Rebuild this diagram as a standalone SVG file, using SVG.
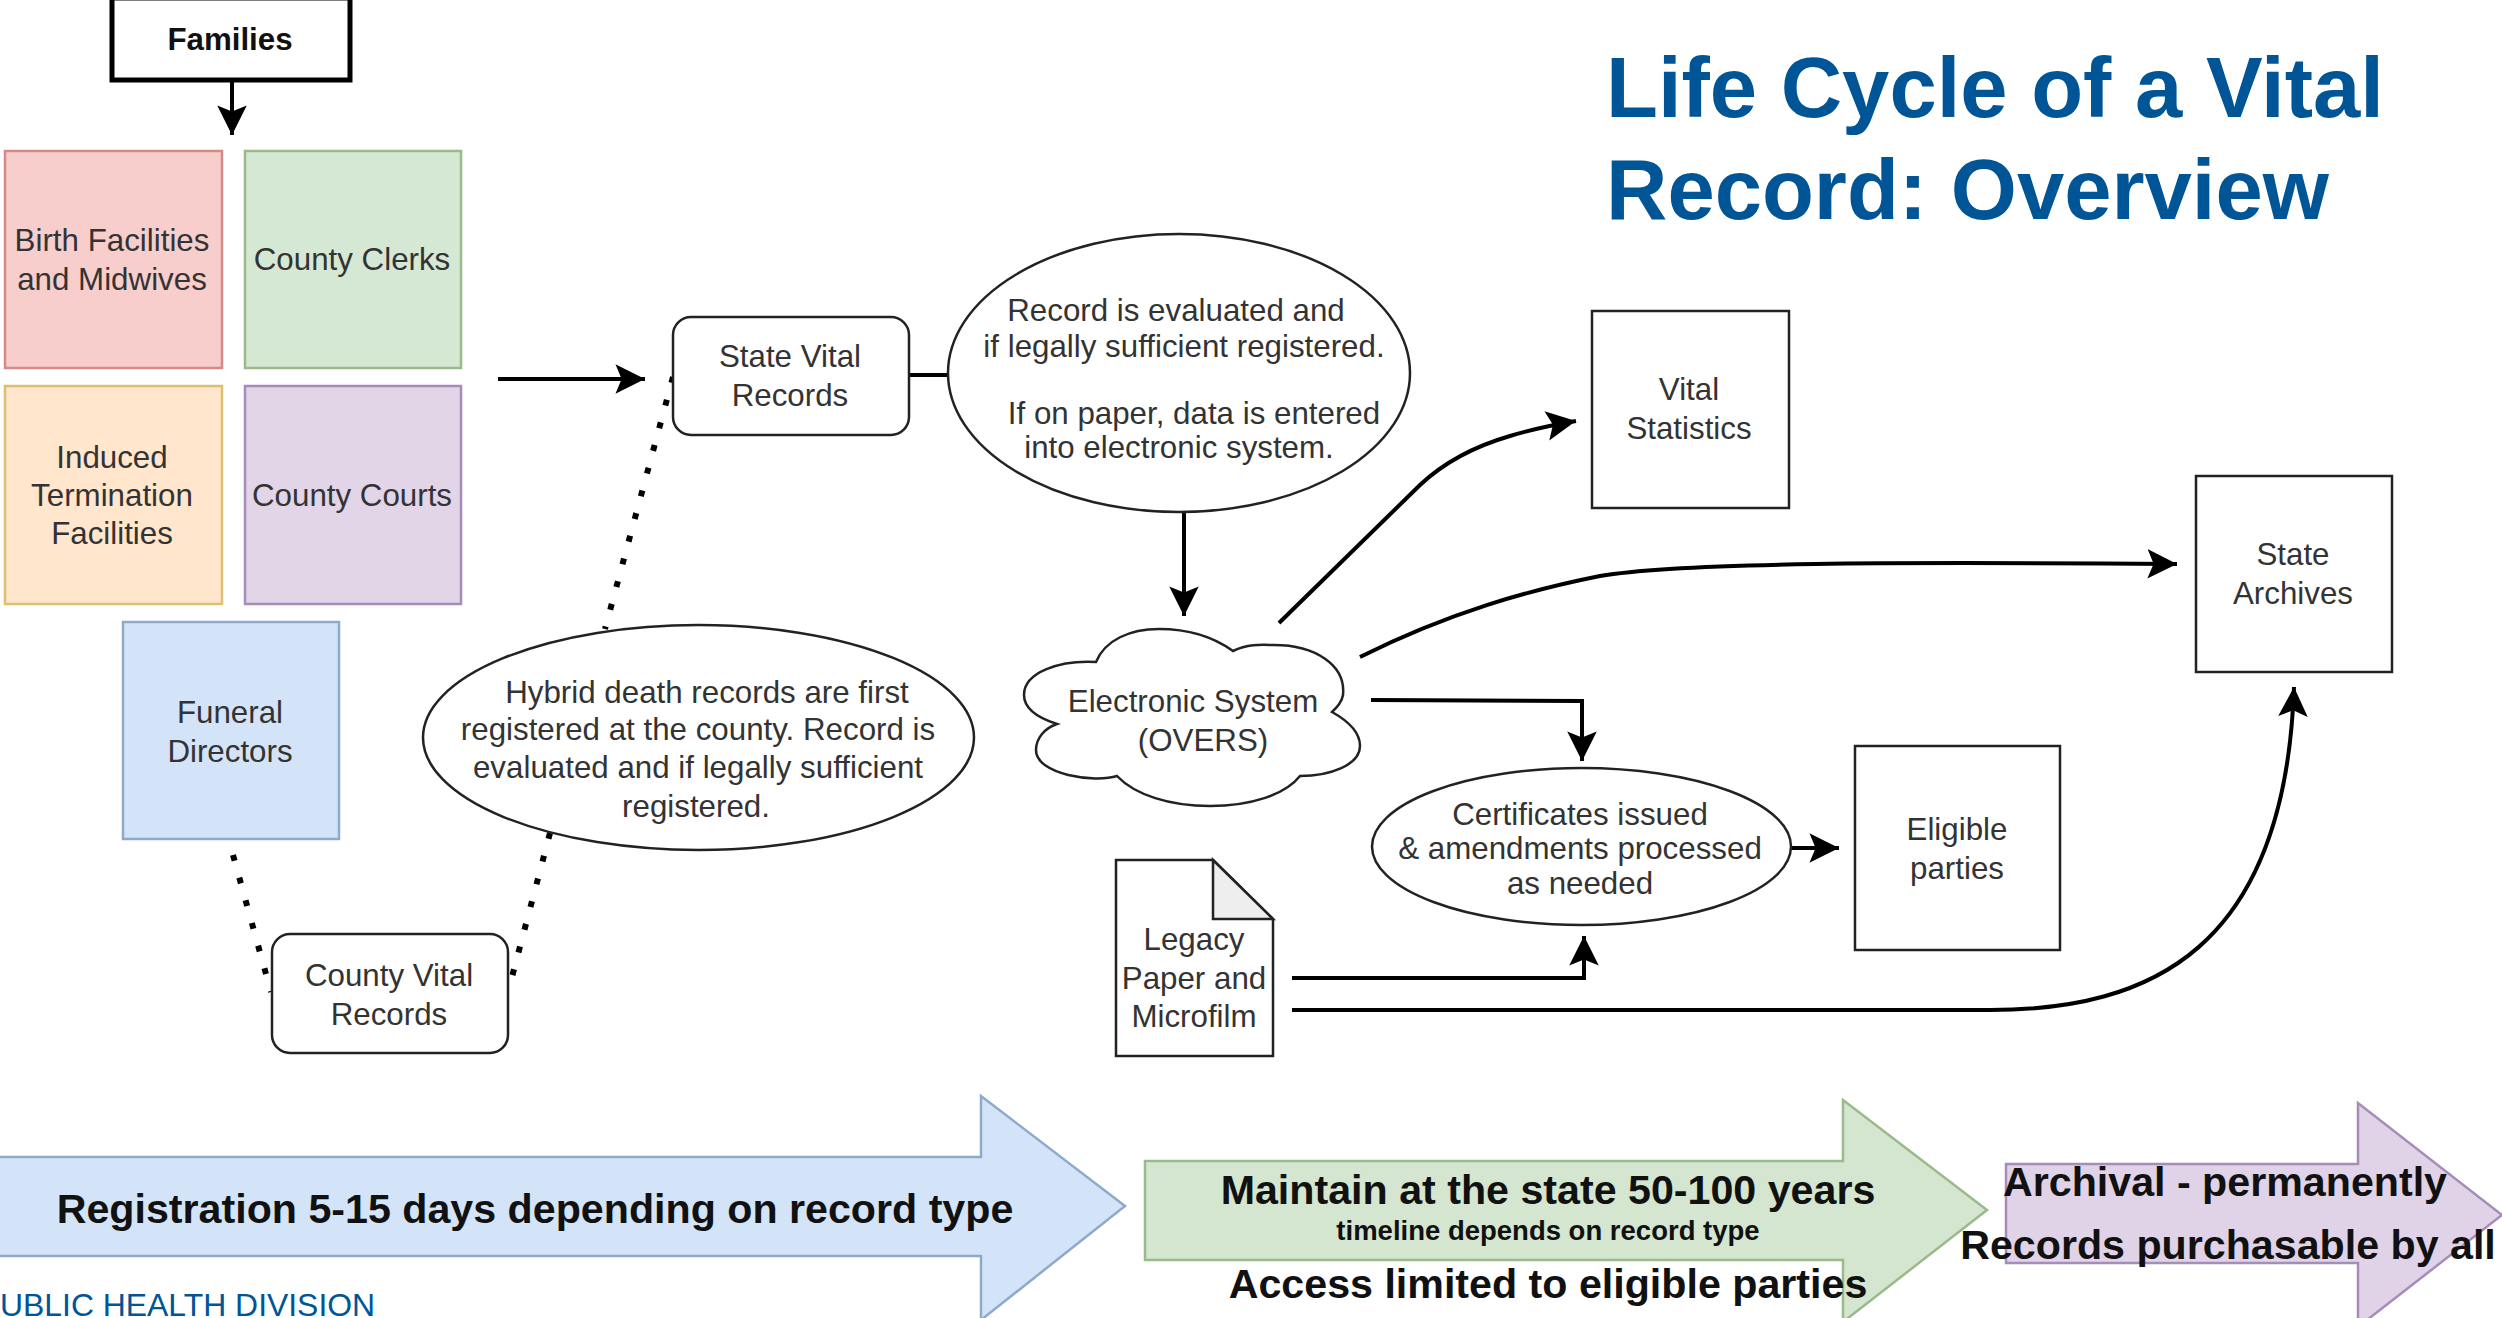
<svg xmlns="http://www.w3.org/2000/svg" width="2502" height="1318" viewBox="0 0 2502 1318">
<style>
text{font-family:"Liberation Sans",Arial,sans-serif;font-size:31.3px;fill:#333;text-anchor:middle}
.n{stroke:#222;stroke-width:2.5;fill:#fff}
.c{fill:none;stroke:#000;stroke-width:4}
.d{fill:none;stroke:#000;stroke-width:6;stroke-dasharray:6 17.5}
.b{font-weight:bold;fill:#111;font-size:41.2px}
.t{font-weight:bold;fill:#005596;font-size:85px;text-anchor:start}
</style>
<defs>
<marker id="a" markerUnits="userSpaceOnUse" markerWidth="32" markerHeight="32" refX="24" refY="12" viewBox="0 0 26 24" orient="auto"><path d="M0 0L24 12L0 24L5 12Z" fill="#000"/></marker>
</defs>
<rect width="2502" height="1318" fill="#fff"/>
<g id="arrow-registration"><path d="M-5 1157H981V1096L1125 1206L981 1320V1256H-5Z" fill="#d4e4f8" stroke="#8eaacb" stroke-width="2.5"/><text class="b" x="535" y="1223">Registration 5-15 days depending on record type</text></g>
<g id="arrow-maintain"><path d="M1145 1161H1843V1100L1987 1210L1843 1322V1260H1145Z" fill="#d4e6cf" stroke="#9aba8a" stroke-width="2.5"/><text class="b" x="1548" y="1204">Maintain at the state 50-100 years</text><text class="b" style="font-size:27.5px" x="1548" y="1240">timeline depends on record type</text><text class="b" x="1548" y="1298">Access limited to eligible parties</text></g>
<g id="arrow-archival"><path d="M2006 1164H2358V1103L2502 1215L2358 1327V1263H2006Z" fill="#e0d3e8" stroke="#a68cb8" stroke-width="2.5"/><text class="b" x="2225" y="1196">Archival - permanently</text><text class="b" x="2228" y="1259">Records purchasable by all</text></g>
<g id="connectors">
<path class="c" d="M232 80V135" marker-end="url(#a)"/>
<path class="c" d="M498 379H645" marker-end="url(#a)"/>
<path class="c" d="M909 375H948"/>
<path class="d" d="M673 377L605 629"/>
<path class="d" d="M233 855L271 992"/>
<path class="d" d="M550 833L508 992"/>
<path class="c" d="M1184 513V616" marker-end="url(#a)"/>
<path class="c" d="M1279 623L1420 485Q1455 452 1510 436Q1540 427 1576 421" marker-end="url(#a)"/>
<path class="c" d="M1360 657C1450 612 1530 590 1600 576C1680 562 1900 562 2177 564" marker-end="url(#a)"/>
<path class="c" d="M1371 700L1582 701V761" marker-end="url(#a)"/>
<path class="c" d="M1791 848H1839" marker-end="url(#a)"/>
<path class="c" d="M1292 978H1584V936" marker-end="url(#a)"/>
<path class="c" d="M1292 1010H1990C2150 1010 2285 950 2294 687" marker-end="url(#a)"/>
</g>
<g id="families"><rect x="112" y="-2" width="238" height="82" fill="#fff" stroke="#000" stroke-width="5"/><text x="230" y="50" style="font-weight:bold;fill:#111">Families</text></g>
<g id="birth"><rect x="5" y="151" width="217" height="217" fill="#f8cecc" stroke="#d58a88" stroke-width="2.5"/><text x="112" y="251">Birth Facilities</text><text x="112" y="290">and Midwives</text></g>
<g id="clerks"><rect x="245" y="151" width="216" height="217" fill="#d5e8d4" stroke="#9aba8a" stroke-width="2.5"/><text x="352" y="270">County Clerks</text></g>
<g id="induced"><rect x="5" y="386" width="217" height="218" fill="#ffe6cc" stroke="#dcc070" stroke-width="2.5"/><text x="112" y="468">Induced</text><text x="112" y="506">Termination</text><text x="112" y="544">Facilities</text></g>
<g id="courts"><rect x="245" y="386" width="216" height="218" fill="#e1d5e7" stroke="#a68cb8" stroke-width="2.5"/><text x="352" y="506">County Courts</text></g>
<g id="funeral"><rect x="123" y="622" width="216" height="217" fill="#d4e4f8" stroke="#8eaacb" stroke-width="2.5"/><text x="230" y="723">Funeral</text><text x="230" y="762">Directors</text></g>
<g id="state-vital"><rect class="n" x="673" y="317" width="236" height="118" rx="18"/><text x="790" y="367">State Vital</text><text x="790" y="406">Records</text></g>
<g id="county-vital"><rect class="n" x="272" y="934" width="236" height="119" rx="18"/><text x="389" y="986">County Vital</text><text x="389" y="1025">Records</text></g>
<g id="hybrid"><ellipse class="n" cx="698.5" cy="737.5" rx="275.5" ry="112.5"/><text x="707" y="703">Hybrid death records are first</text><text x="698" y="740">registered at the county. Record is</text><text x="698" y="778">evaluated and if legally sufficient</text><text x="696" y="817">registered.</text></g>
<g id="evaluate"><ellipse class="n" cx="1179" cy="373" rx="231" ry="139"/><text x="1176" y="321">Record is evaluated and</text><text x="1184" y="357">if legally sufficient registered.</text><text x="1194" y="424">If on paper, data is entered</text><text x="1179" y="458">into electronic system.</text></g>
<g id="vital-statistics"><rect class="n" x="1592" y="311" width="197" height="197"/><text x="1689" y="400">Vital</text><text x="1689" y="439">Statistics</text></g>
<g id="state-archives"><rect class="n" x="2196" y="476" width="196" height="196"/><text x="2293" y="565">State</text><text x="2293" y="604">Archives</text></g>
<g id="electronic"><path class="n" d="M1096 662C1105 640 1130 629 1159 629C1190 629 1215 638 1233 651C1250 643 1265 645 1274 645C1315 645 1346 665 1343 695C1342 702 1337 707 1332 712C1350 722 1360 733 1360 746C1360 765 1330 776 1300 776C1285 795 1250 806 1210 806C1170 806 1135 795 1117 776C1095 783 1036 775 1036 750C1036 738 1045 728 1057 724C1035 717 1024 708 1024 695C1024 672 1060 660 1096 662Z"/><text x="1193" y="712">Electronic System</text><text x="1203" y="751">(OVERS)</text></g>
<g id="certificates"><ellipse class="n" cx="1581.5" cy="846.5" rx="209.5" ry="78.5"/><text x="1580" y="825">Certificates issued</text><text x="1580" y="859">&amp; amendments processed</text><text x="1580" y="894">as needed</text></g>
<g id="eligible"><rect class="n" x="1855" y="746" width="205" height="204"/><text x="1957" y="840">Eligible</text><text x="1957" y="879">parties</text></g>
<g id="legacy"><path class="n" d="M1116 860H1213L1273 919V1056H1116Z"/><path d="M1213 860L1273 919H1213Z" fill="#eee" stroke="#222" stroke-width="2.5"/><text x="1194" y="950">Legacy</text><text x="1194" y="989">Paper and</text><text x="1194" y="1027">Microfilm</text></g>
<g id="title"><text class="t" x="1606" y="117">Life Cycle of a Vital</text><text class="t" x="1606" y="219">Record: Overview</text></g>
<text x="0" y="1316" style="text-anchor:start;fill:#005596;font-size:31.9px">UBLIC HEALTH DIVISION</text>
</svg>
